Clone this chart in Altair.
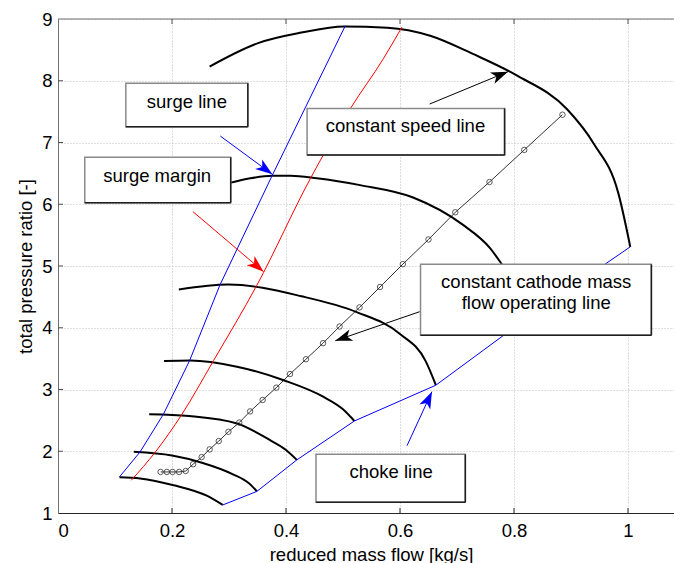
import math
import altair as alt
import pandas as pd

# ---------------- axis ranges / layout ----------------
X_MIN, X_MAX = 0.0, 1.0807
Y_MIN, Y_MAX = 1.0, 9.0
W, H = 616, 494

x_ticks = [0, 0.2, 0.4, 0.6, 0.8, 1.0]
y_ticks = [1, 2, 3, 4, 5, 6, 7, 8, 9]

# ---------------- constant speed lines ----------------
speed1_x = [0.108, 0.144, 0.203, 0.261, 0.289]
speed1_y = [1.58, 1.56, 1.45, 1.28, 1.13]
speed2_x = [0.133, 0.20, 0.254, 0.306, 0.335, 0.349]
speed2_y = [1.99, 1.93, 1.81, 1.63, 1.48, 1.35]
speed3_x = [0.160, 0.23, 0.314, 0.372, 0.400, 0.419]
speed3_y = [2.60, 2.57, 2.45, 2.18, 2.02, 1.86]
speed4_x = [0.186, 0.232, 0.314, 0.396, 0.466, 0.500, 0.520]
speed4_y = [3.46, 3.47, 3.37, 3.15, 2.88, 2.68, 2.49]
speed5_x = [0.212, 0.299, 0.427, 0.525, 0.600, 0.645, 0.663]
speed5_y = [4.62, 4.70, 4.51, 4.25, 3.90, 3.46, 3.07]
speed6_x = [0.262, 0.303, 0.337, 0.376, 0.408, 0.454, 0.530, 0.623, 0.710, 0.758, 0.780, 0.835]
speed6_y = [6.27, 6.35, 6.42, 6.46, 6.46, 6.42, 6.31, 6.11, 5.67, 5.29, 5.01, 4.24]
speed7_x = [0.266, 0.351, 0.427, 0.502, 0.578, 0.653, 0.729, 0.804, 0.894, 0.940, 0.983, 1.004]
speed7_y = [8.23, 8.61, 8.78, 8.88, 8.86, 8.73, 8.43, 8.09, 7.53, 6.98, 6.18, 5.31]

# ---------------- surge / margin / choke lines ----------------
surge_x = [0.1075, 0.144, 0.185, 0.231, 0.284, 0.376, 0.504]
surge_y = [1.58, 1.99, 2.60, 3.47, 4.69, 6.47, 8.89]
margin_x = [0.1286, 0.171, 0.2175, 0.273, 0.349, 0.443, 0.513, 0.571, 0.6035]
margin_y = [1.53, 1.99, 2.60, 3.47, 4.69, 6.42, 7.55, 8.36, 8.87]
choke_x = [0.289, 0.349, 0.419, 0.520, 0.663, 0.835, 1.004]
choke_y = [1.13, 1.35, 1.86, 2.49, 3.07, 4.24, 5.31]

# ---------------- operating line (circles) ----------------
op_x = [0.180, 0.191, 0.201, 0.2125, 0.224, 0.237, 0.252, 0.266, 0.282, 0.299,
        0.318, 0.337, 0.359, 0.383, 0.407, 0.435, 0.465, 0.494, 0.529, 0.565,
        0.605, 0.650, 0.697, 0.757, 0.818, 0.885]
op_y = [1.665, 1.665, 1.665, 1.665, 1.68, 1.79, 1.905, 2.03, 2.165, 2.315,
        2.465, 2.645, 2.83, 3.03, 3.25, 3.49, 3.75, 4.02, 4.33, 4.66,
        5.03, 5.43, 5.87, 6.36, 6.88, 7.45]

# ---------------- annotation boxes & texts ----------------
box_x1 = [0.119, 0.047, 0.437, 0.636, 0.4526]
box_x2 = [0.333, 0.303, 0.7835, 1.041, 0.7146]
box_top = [7.96, 6.76, 7.552, 5.027, 1.95]
box_bottom = [7.256, 6.025, 6.796, 3.88, 1.173]

label_text = ["surge line", "surge margin", "constant speed line",
              "constant cathode mass", "flow operating line", "choke line"]
label_x = [0.226, 0.174, 0.6096, 0.839, 0.839, 0.5844]
label_y = [7.66, 6.46, 7.26, 4.736, 4.396, 1.669]

# ---------------- arrows ----------------
arrow_tail_x = [0.2847, 0.2368, 0.652, 0.6345, 0.6123]
arrow_tail_y = [7.105, 5.88, 7.623, 4.26, 2.09]
arrow_tip_x = [0.376, 0.3607, 0.7894, 0.4865, 0.656]
arrow_tip_y = [6.485, 4.908, 8.147, 3.79, 2.965]
arrow_color = ["#0000ff", "#ff0000", "#000000", "#000000", "#0000ff"]

FONT = "Liberation Sans"
FS = 18.5

# ---------------- data frames ----------------
speed_sets = [(speed1_x, speed1_y), (speed2_x, speed2_y), (speed3_x, speed3_y),
              (speed4_x, speed4_y), (speed5_x, speed5_y), (speed6_x, speed6_y),
              (speed7_x, speed7_y)]
rows = []
for k, (xs, ys) in enumerate(speed_sets):
    for i, (a, b) in enumerate(zip(xs, ys)):
        rows.append({"x": a, "y": b, "line": f"n{k}", "i": i})
df_speed = pd.DataFrame(rows)


def series_df(xs, ys):
    return pd.DataFrame({"x": xs, "y": ys, "i": list(range(len(xs)))})


df_surge = series_df(surge_x, surge_y)
df_margin = series_df(margin_x, margin_y)
df_choke = series_df(choke_x, choke_y)
df_op = series_df(op_x, op_y)

df_box = pd.DataFrame({"x1": box_x1, "x2": box_x2, "yt": box_top, "yb": box_bottom})
df_text = pd.DataFrame({"x": label_x, "y": label_y, "t": label_text})

px_x = W / (X_MAX - X_MIN)
px_y = H / (Y_MAX - Y_MIN)
angles = []
for tx, ty, hx, hy in zip(arrow_tail_x, arrow_tail_y, arrow_tip_x, arrow_tip_y):
    dx = (hx - tx) * px_x
    dy_svg = -(hy - ty) * px_y
    angles.append(math.degrees(math.atan2(dx, -dy_svg)) % 360)
df_arrow = pd.DataFrame({"tx": arrow_tail_x, "ty": arrow_tail_y,
                         "hx": arrow_tip_x, "hy": arrow_tip_y,
                         "color": arrow_color, "angle": angles})

df_xt = pd.DataFrame({"v": x_ticks[1:]})
df_yt = pd.DataFrame({"v": y_ticks[1:-1]})
df_one = pd.DataFrame({"v": [0]})

# ---------------- encodings ----------------
x_axis = alt.Axis(values=x_ticks, format=".1~f", title="reduced mass flow [kg/s]",
                  ticks=False, labelPadding=8, grid=True,
                  gridColor="#bdbdbd", gridDash=[1, 2], gridWidth=1,
                  domainColor="#262626", domainWidth=1,
                  labelFont=FONT, labelFontSize=FS, labelColor="black",
                  titleFont=FONT, titleFontSize=FS, titleFontWeight="normal",
                  titleColor="black", titleX=313, titleY=47,
                  titleBaseline="alphabetic", titleAlign="center")
y_axis = alt.Axis(values=y_ticks, format="d", title="total pressure ratio [-]",
                  ticks=False, labelPadding=6, grid=True,
                  gridColor="#bdbdbd", gridDash=[1, 2], gridWidth=1,
                  domainColor="#707070", domainWidth=1,
                  labelFont=FONT, labelFontSize=FS, labelColor="black",
                  titleFont=FONT, titleFontSize=FS, titleFontWeight="normal",
                  titleColor="black", titleX=-33, titleY=247, titleAngle=270,
                  titleBaseline="middle", titleAlign="center")

xs_scale = alt.Scale(domain=[X_MIN, X_MAX], nice=False, zero=False)
ys_scale = alt.Scale(domain=[Y_MIN, Y_MAX], nice=False, zero=False)


def X(f="x"):
    return alt.X(f"{f}:Q", scale=xs_scale, axis=x_axis)


def Y(f="y"):
    return alt.Y(f"{f}:Q", scale=ys_scale, axis=y_axis)


# ---------------- layers ----------------
speed = alt.Chart(df_speed).mark_line(color="black", strokeWidth=2,
                                      interpolate="monotone").encode(
    x=X(), y=Y(), detail="line:N", order="i:Q")
surge = alt.Chart(df_surge).mark_line(color="#0000ff", strokeWidth=1).encode(
    x=X(), y=Y(), order="i:Q")
margin = alt.Chart(df_margin).mark_line(color="#ff0000", strokeWidth=1,
                                        interpolate="monotone").encode(
    x=X(), y=Y(), order="i:Q")
choke = alt.Chart(df_choke).mark_line(color="#0000ff", strokeWidth=1).encode(
    x=X(), y=Y(), order="i:Q")
op_line = alt.Chart(df_op).mark_line(color="black", strokeWidth=0.8).encode(
    x=X(), y=Y(), order="i:Q")
op_pts = alt.Chart(df_op).mark_point(shape="circle", size=30, filled=False,
                                     color="#333333", strokeWidth=0.8, opacity=1).encode(
    x=X(), y=Y())

boxes = alt.Chart(df_box).mark_rect(fill="white", stroke="#8a8a8a", strokeWidth=1.5).encode(
    x=X("x1"), x2="x2", y=Y("yt"), y2="yb")
box_r = alt.Chart(df_box).mark_rule(color="#1e1e1e", strokeWidth=1.5).encode(
    x=X("x2"), y=Y("yt"), y2="yb")
box_b = alt.Chart(df_box).mark_rule(color="#1e1e1e", strokeWidth=1.5).encode(
    x=X("x1"), x2="x2", y=Y("yb"))
texts = alt.Chart(df_text).mark_text(font=FONT, fontSize=FS, color="black",
                                     align="center", baseline="middle").encode(
    x=X(), y=Y(), text="t:N")

HEAD = "M0,0 L-0.6,1.7 L0,1.25 L0.6,1.7 Z"
arrow_lines = alt.Chart(df_arrow).mark_rule(strokeWidth=1).encode(
    x=X("tx"), y=Y("ty"), x2="hx", y2="hy", color=alt.Color("color:N", scale=None))
arrow_heads = alt.Chart(df_arrow).mark_point(shape=HEAD, size=400, filled=True,
                                             opacity=1, strokeWidth=0).encode(
    x=X("hx"), y=Y("hy"), angle=alt.Angle("angle:Q", scale=None),
    color=alt.Color("color:N", scale=None))

top_frame = alt.Chart(df_one).mark_rule(color="#707070", strokeWidth=1).encode(
    x=alt.value(0), x2=alt.value(W), y=alt.value(0))
ticks_bottom = alt.Chart(df_xt).mark_rule(color="#262626", strokeWidth=1).encode(
    x=X("v"), y=alt.value(H), y2=alt.value(H - 5))
ticks_top = alt.Chart(df_xt).mark_rule(color="#505050", strokeWidth=1).encode(
    x=X("v"), y=alt.value(0), y2=alt.value(5))
ticks_left = alt.Chart(df_yt).mark_rule(color="#505050", strokeWidth=1).encode(
    y=Y("v"), x=alt.value(0), x2=alt.value(5))

chart = alt.layer(
    speed, surge, margin, choke, op_line, op_pts,
    boxes, box_r, box_b, texts, arrow_lines, arrow_heads,
    top_frame, ticks_bottom, ticks_top, ticks_left,
).properties(
    width=W, height=H,
    padding={"left": 58, "top": 19, "right": 0, "bottom": 50},
    autosize=alt.AutoSizeParams(type="none"),
    background="white",
).configure_view(stroke=None)

chart.save("out.html", embed_options={"renderer": "svg", "actions": False})
